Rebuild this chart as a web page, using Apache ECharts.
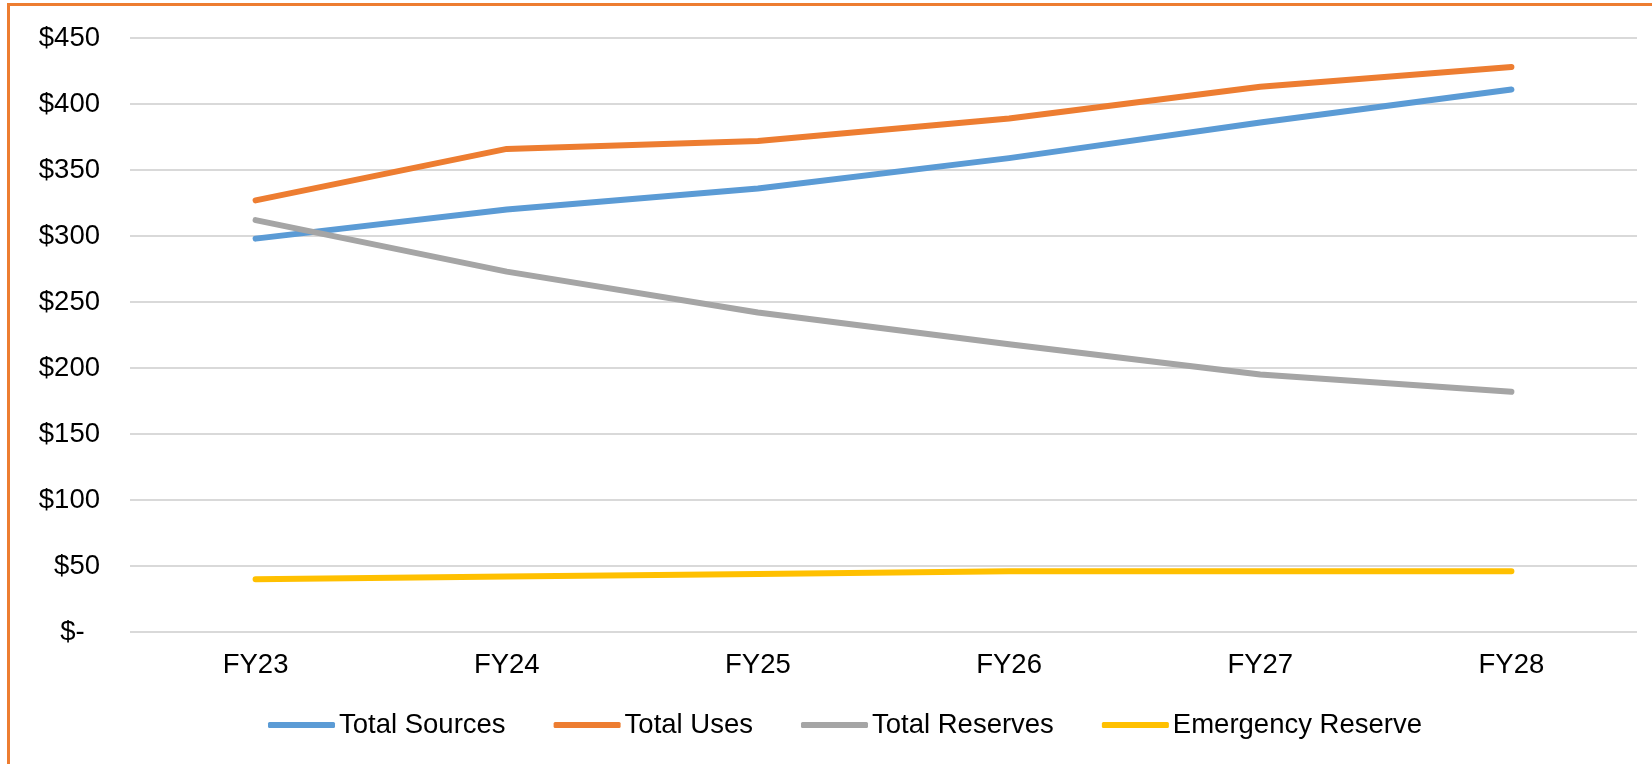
<!DOCTYPE html>
<html>
<head>
<meta charset="utf-8">
<title>Sources, Uses and Reserves FY23–FY28</title>
<script src="https://cdn.jsdelivr.net/npm/echarts@6/dist/echarts.min.js"></script>
<style>
  html, body { margin: 0; padding: 0; background: #ffffff; }
  #chart { width: 1652px; height: 764px; }
</style>
</head>
<body>
<div id="chart"></div>
<script>
// Fiscal years on the category axis
const years = ['FY23', 'FY24', 'FY25', 'FY26', 'FY27', 'FY28'];

// Series values (millions of dollars)
const totalSources = [298, 320, 336, 359, 386, 411];
const totalUses = [327, 366, 372, 389, 413, 428];
const totalReserves = [312, 273, 242, 218, 195, 182];
const emergencyReserve = [40, 42, 44, 46, 46, 46];

// Value-axis tick range
const yMin = 0;
const yMax = 450;
const yStep = 50;

const FONT = '"Liberation Sans", Arial, sans-serif';
const TEXT = '#000000';
const FONT_SIZE = 27.5;

function lineSeries(name, data, color) {
  return {
    name: name,
    type: 'line',
    data: data,
    showSymbol: false,
    symbol: 'none',
    smooth: false,
    lineStyle: { color: color, width: 6, cap: 'round', join: 'round' },
    itemStyle: { color: color },
    emphasis: { disabled: true },
    animation: false
  };
}

const chart = echarts.init(document.getElementById('chart'), null, { renderer: 'canvas' });

chart.setOption({
  backgroundColor: '#ffffff',
  animation: false,
  textStyle: { fontFamily: FONT, color: TEXT },
  graphic: [{
    type: 'rect',
    silent: true,
    shape: { x: 8.5, y: 4.5, width: 1800, height: 900 },
    style: { fill: 'none', stroke: '#ED7D31', lineWidth: 3 }
  }],
  grid: { left: 130, right: 15, top: 38, bottom: 132, containLabel: false },
  legend: {
    left: 263,
    top: 706,
    itemWidth: 67,
    itemHeight: 6,
    itemGap: 48,
    icon: 'roundRect',
    textStyle: { fontFamily: FONT, fontSize: FONT_SIZE, color: TEXT, padding: [0, 0, 0, -1] },
    data: ['Total Sources', 'Total Uses', 'Total Reserves', 'Emergency Reserve']
  },
  xAxis: {
    type: 'category',
    data: years,
    boundaryGap: true,
    axisLine: { show: false },
    axisTick: { show: false },
    axisLabel: { fontFamily: FONT, fontSize: FONT_SIZE, color: TEXT, margin: 19 }
  },
  yAxis: {
    type: 'value',
    min: yMin,
    max: yMax,
    interval: yStep,
    axisLine: { show: false },
    axisTick: { show: false },
    splitLine: { lineStyle: { color: '#D9D9D9', width: 2 } },
    axisLabel: {
      fontFamily: FONT,
      fontSize: FONT_SIZE,
      color: TEXT,
      margin: 30,
      formatter: function (v) { return v === 0 ? '$-  ' : '$' + v; }
    }
  },
  series: [
    lineSeries('Total Sources', totalSources, '#5B9BD5'),
    lineSeries('Total Uses', totalUses, '#ED7D31'),
    lineSeries('Total Reserves', totalReserves, '#A5A5A5'),
    lineSeries('Emergency Reserve', emergencyReserve, '#FFC000')
  ]
});
</script>
</body>
</html>
